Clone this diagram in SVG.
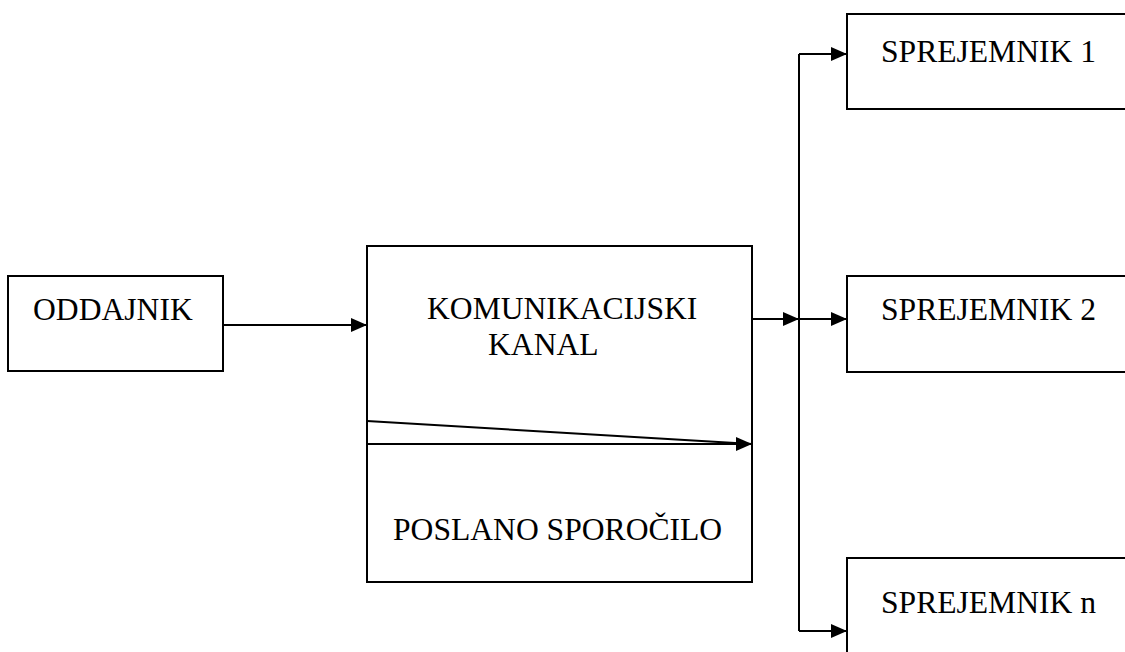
<svg xmlns="http://www.w3.org/2000/svg" width="1125" height="652" viewBox="0 0 1125 652">
<style>
.box{fill:#fff;stroke:#000;stroke-width:2}
.lbl{font-family:"Liberation Serif","Times New Roman",serif;font-size:31.6px;fill:#000}
.ln{fill:none;stroke:#000;stroke-width:2}
</style>
<defs>
<marker id="ah" markerUnits="userSpaceOnUse" markerWidth="16" markerHeight="14" refX="16" refY="7" orient="auto">
<path d="M0,0 L16,7 L0,14 z" fill="#000"/>
</marker>
</defs>
<rect width="1125" height="652" fill="#fff"/>
<g id="oddajnik">
<rect class="box" x="8" y="276" width="215" height="95"/>
<text class="lbl" x="33" y="320">ODDAJNIK</text>
</g>
<g id="kanal">
<rect class="box" x="367" y="246" width="385" height="336"/>
<text class="lbl" x="427" y="319">KOMUNIKACIJSKI</text>
<text class="lbl" x="488" y="355">KANAL</text>
<text class="lbl" x="393" y="540">POSLANO SPOROČILO</text>
</g>
<g id="sprejemnik1">
<rect class="box" x="847" y="14" width="290" height="95"/>
<text class="lbl" x="881" y="62">SPREJEMNIK 1</text>
</g>
<g id="sprejemnik2">
<rect class="box" x="847" y="276" width="290" height="96"/>
<text class="lbl" x="881" y="320">SPREJEMNIK 2</text>
</g>
<g id="sprejemnikn">
<rect class="box" x="847" y="558" width="290" height="110"/>
<text class="lbl" x="881" y="613">SPREJEMNIK n</text>
</g>
<g id="connectors">
<line class="ln" x1="223" y1="325" x2="367" y2="325" marker-end="url(#ah)"/>
<line class="ln" x1="367" y1="421" x2="752" y2="444"/>
<line class="ln" x1="367" y1="444" x2="752" y2="444" marker-end="url(#ah)"/>
<line class="ln" x1="752" y1="319" x2="799" y2="319" marker-end="url(#ah)"/>
<line class="ln" x1="799" y1="54" x2="799" y2="631"/>
<line class="ln" x1="799" y1="54" x2="847" y2="54" marker-end="url(#ah)"/>
<line class="ln" x1="799" y1="319" x2="847" y2="319" marker-end="url(#ah)"/>
<line class="ln" x1="799" y1="631" x2="847" y2="631" marker-end="url(#ah)"/>
</g>
</svg>
